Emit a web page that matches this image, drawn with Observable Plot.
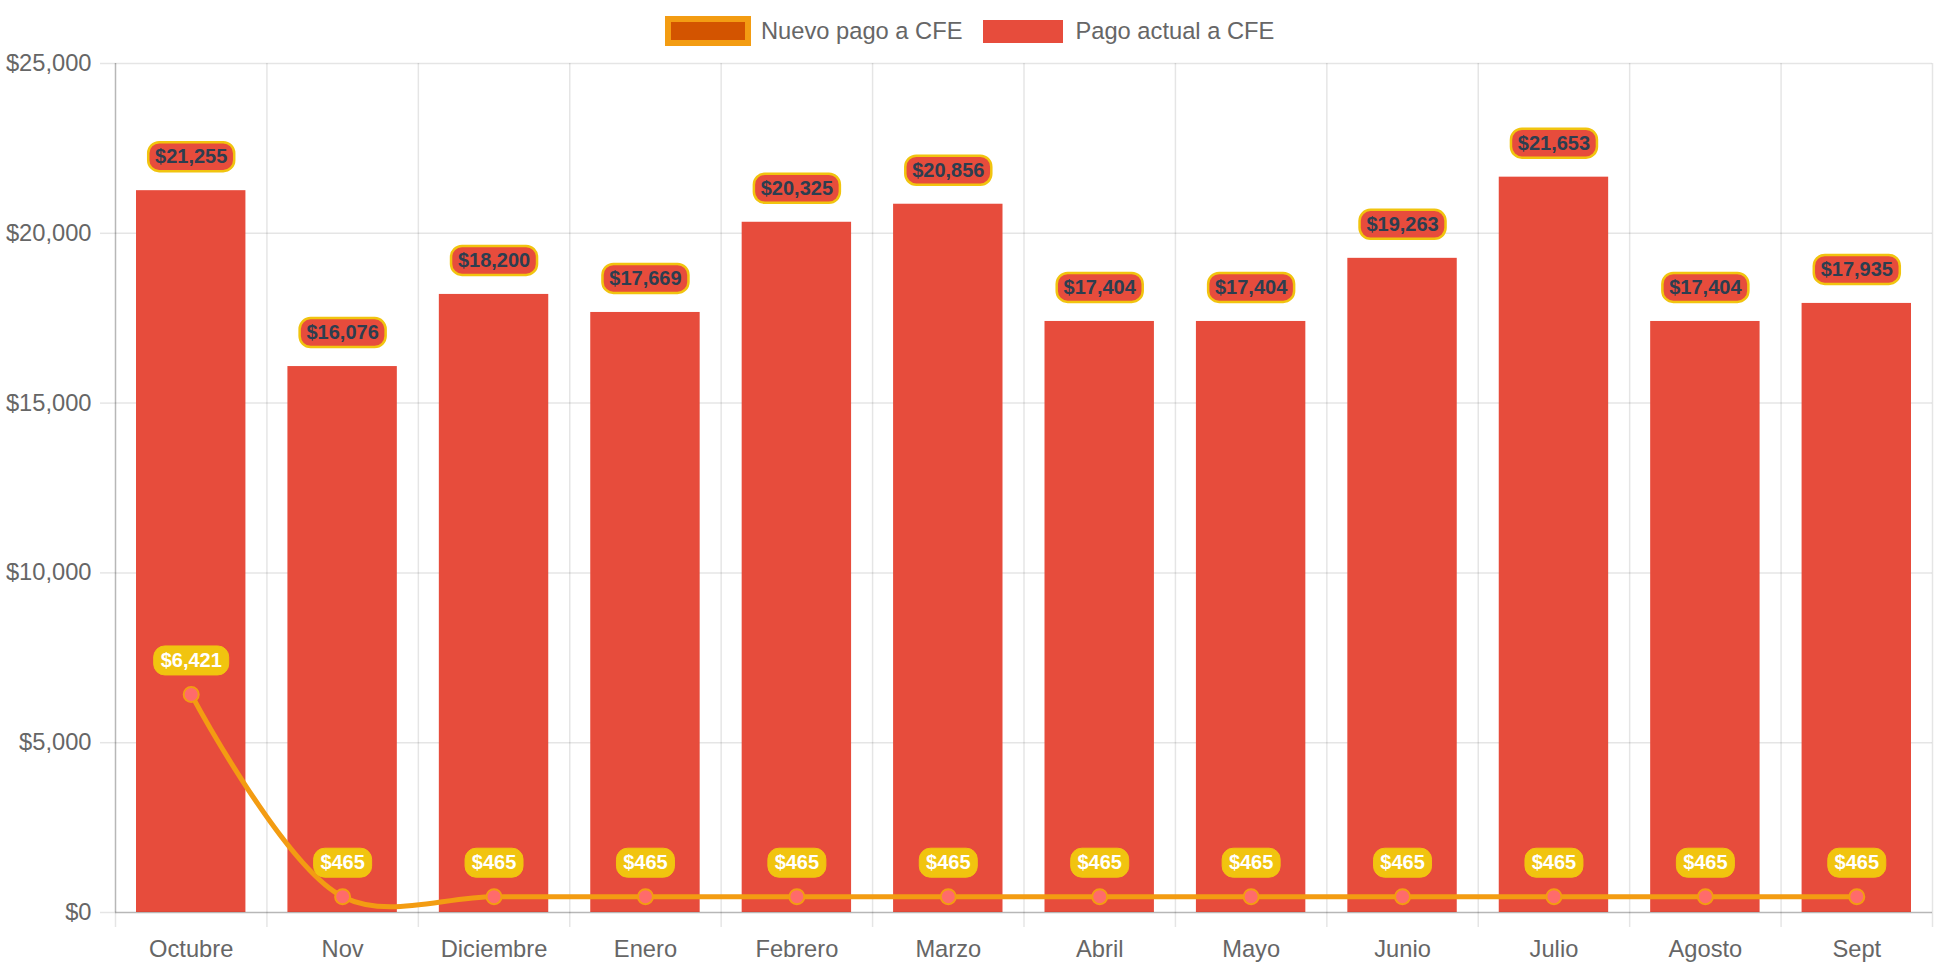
<!DOCTYPE html>
<html>
<head>
<meta charset="utf-8">
<script src="https://cdn.jsdelivr.net/npm/d3@7"></script>
<script src="https://cdn.jsdelivr.net/npm/@observablehq/plot@0.6"></script>
<style>
  html, body { margin: 0; padding: 0; background: #fff; }
  body { width: 1942px; height: 970px; overflow: hidden; font-family: "Liberation Sans", Arial, Helvetica, sans-serif; }
  #legend { position: relative; height: 50px; display: flex; align-items: center; padding-left: 665px; padding-top: 12px; box-sizing: border-box; color: #666; font-size: 23.7px; }
  #legend .sw1 { width: 74px; height: 18px; background: #d35400; border: 6px solid #f39c12; margin-right: 10px; }
  #legend .sw2 { width: 80px; height: 23px; background: #e74c3c; margin-right: 12px; }
  #legend .t1 { margin-right: 21px; }
  #chart svg { display: block; }
</style>
</head>
<body>
<div id="legend">
  <div class="sw1"></div><span class="t1">Nuevo pago a CFE</span>
  <div class="sw2"></div><span>Pago actual a CFE</span>
</div>
<div id="chart"></div>
<script>
const months = ["Octubre", "Nov", "Diciembre", "Enero", "Febrero", "Marzo", "Abril", "Mayo", "Junio", "Julio", "Agosto", "Sept"];
const pagoActual = [21255, 16076, 18200, 17669, 20325, 20856, 17404, 17404, 19263, 21653, 17404, 17935];
const nuevoPago = [6421, 465, 465, 465, 465, 465, 465, 465, 465, 465, 465, 465];
const yTicks = [0, 5000, 10000, 15000, 20000, 25000];

const data = months.map((m, i) => ({ i, month: m, actual: pagoActual[i], nuevo: nuevoPago[i] }));
const money = d3.format(",");
const fmt = v => "$" + money(v);

function pill(w, h, r) {
  return {
    draw(ctx) {
      const x0 = -w / 2, y0 = -h / 2, x1 = w / 2, y1 = h / 2;
      ctx.moveTo(x0 + r, y0);
      ctx.lineTo(x1 - r, y0);
      ctx.arcTo(x1, y0, x1, y0 + r, r);
      ctx.lineTo(x1, y1 - r);
      ctx.arcTo(x1, y1, x1 - r, y1, r);
      ctx.lineTo(x0 + r, y1);
      ctx.arcTo(x0, y1, x0, y1 - r, r);
      ctx.lineTo(x0, y0 + r);
      ctx.arcTo(x0, y0, x0 + r, y0, r);
      ctx.closePath();
    }
  };
}

const font = "Liberation Sans, Arial, Helvetica, sans-serif";
const labelDy = -34;

const chart = Plot.plot({
  width: 1942,
  height: 920,
  marginTop: 13,
  marginBottom: 58,
  marginLeft: 115,
  marginRight: 10,
  style: { fontFamily: font, background: "#fff", overflow: "visible" },
  x: { type: "linear", domain: [0, 12], label: null },
  y: { type: "linear", domain: [0, 25000], label: null },
  marks: [
    Plot.gridY(yTicks, { stroke: "#000", strokeOpacity: 0.1, strokeWidth: 1.5 }),
    Plot.gridX(d3.range(13), { stroke: "#000", strokeOpacity: 0.1, strokeWidth: 1.5 }),
    Plot.axisX(d3.range(13), { label: null, tickSize: 15, tickFormat: () => "", stroke: "#000", strokeOpacity: 0.1, strokeWidth: 1.5 }),
    Plot.axisX(d3.range(12).map(i => i + 0.5), {
      label: null, tickSize: 0, tickPadding: 28, fontSize: 23.7, fill: "#666",
      tickFormat: v => months[Math.floor(v)]
    }),
    Plot.axisY(yTicks, {
      label: null, tickSize: 15, tickPadding: 9, fontSize: 23.7, fill: "#666",
      stroke: "#000", strokeOpacity: 0.1, strokeWidth: 1.5,
      tickFormat: fmt
    }),
    Plot.rectY(data, { x1: "i", x2: d => d.i + 1, y: "actual", insetLeft: 21, insetRight: 21, fill: "#e74c3c" }),
    Plot.ruleX([0], { stroke: "#000", strokeOpacity: 0.2, strokeWidth: 1.5 }),
    Plot.ruleY([0], { stroke: "#000", strokeOpacity: 0.2, strokeWidth: 1.5 }),
    Plot.dot(data, { x: d => d.i + 0.5, y: "actual", dy: labelDy, symbol: pill(86, 29, 11), fill: "#e74c3c", stroke: "#f1c40f", strokeWidth: 2.5 }),
    Plot.text(data, { x: d => d.i + 0.5, y: "actual", dy: labelDy, text: d => fmt(d.actual), fill: "#2c3e50", fontWeight: "bold", fontSize: 20, fontFamily: font }),
    Plot.line(data, { x: d => d.i + 0.5, y: "nuevo", stroke: "#f39c12", strokeWidth: 5, curve: "catmull-rom" }),
    Plot.dot(data, { x: d => d.i + 0.5, y: "nuevo", r: 7.5, fill: "#ff6b6b", stroke: "#f39c12", strokeWidth: 2 }),
    Plot.dot(data.filter(d => d.nuevo >= 1000), { x: d => d.i + 0.5, y: "nuevo", dy: labelDy, symbol: pill(75, 29, 11), fill: "#f1c40f", stroke: "#f1c40f", strokeWidth: 1 }),
    Plot.dot(data.filter(d => d.nuevo < 1000), { x: d => d.i + 0.5, y: "nuevo", dy: labelDy, symbol: pill(58, 29, 11), fill: "#f1c40f", stroke: "#f1c40f", strokeWidth: 1 }),
    Plot.text(data, { x: d => d.i + 0.5, y: "nuevo", dy: labelDy, text: d => fmt(d.nuevo), fill: "#fff", fontWeight: "bold", fontSize: 20, fontFamily: font })
  ]
});
document.getElementById("chart").appendChild(chart);
</script>
</body>
</html>
